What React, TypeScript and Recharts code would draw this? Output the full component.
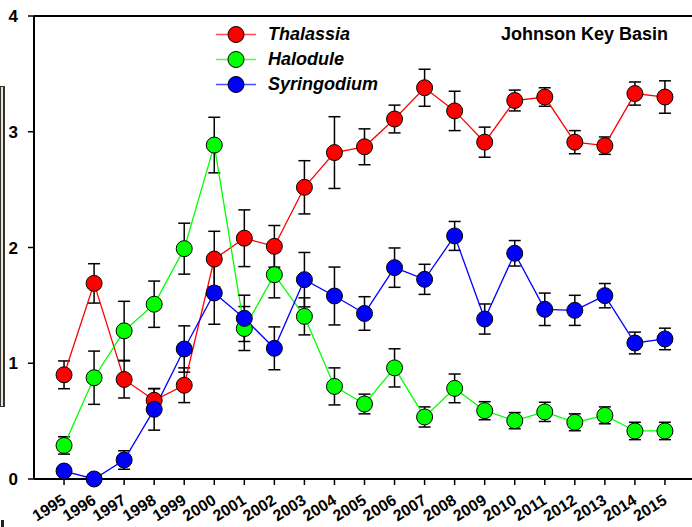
import { LineChart, Line, XAxis, YAxis, ErrorBar, ReferenceLine } from 'recharts';

const years = [
  1995, 1996, 1997, 1998, 1999, 2000, 2001, 2002, 2003, 2004, 2005,
  2006, 2007, 2008, 2009, 2010, 2011, 2012, 2013, 2014, 2015,
];

const thalassia = [
  0.9, 1.69, 0.86, 0.68, 0.81, 1.9, 2.08, 2.01, 2.52, 2.82, 2.87,
  3.11, 3.38, 3.18, 2.91, 3.27, 3.3, 2.91, 2.88, 3.33, 3.3,
];
const thalassiaErr = [
  0.12, 0.17, 0.16, 0.1, 0.15, 0.24, 0.245, 0.18, 0.23, 0.31, 0.155,
  0.12, 0.16, 0.17, 0.13, 0.09, 0.08, 0.1, 0.075, 0.1, 0.14,
];

const halodule = [
  0.29, 0.875, 1.28, 1.51, 1.99, 2.885, 1.3, 1.765, 1.405, 0.8, 0.648,
  0.96, 0.536, 0.783, 0.59, 0.504, 0.58, 0.49, 0.55, 0.415, 0.415,
];
const haloduleErr = [
  0.075, 0.23, 0.255, 0.2, 0.22, 0.24, 0.19, 0.2, 0.16, 0.16, 0.085,
  0.165, 0.087, 0.124, 0.078, 0.07, 0.083, 0.073, 0.073, 0.075, 0.075,
];

const syringodium = [
  0.069, 0.0, 0.164, 0.602, 1.123, 1.607, 1.388, 1.129, 1.722, 1.581, 1.43,
  1.826, 1.725, 2.1, 1.382, 1.95, 1.466, 1.457, 1.584, 1.175, 1.21,
];
const syringodiumErr = [
  0.03, 0, 0.08, 0.18, 0.2, 0.27, 0.2, 0.185, 0.235, 0.25, 0.145,
  0.17, 0.13, 0.125, 0.13, 0.11, 0.14, 0.13, 0.105, 0.094, 0.093,
];

const yTicks = [0, 1, 2, 3, 4];

const series = [
  { key: 'thalassia', err: 'thalassiaErr', name: 'Thalassia', color: '#ff0000' },
  { key: 'halodule', err: 'haloduleErr', name: 'Halodule', color: '#00ff00' },
  { key: 'syringodium', err: 'syringodiumErr', name: 'Syringodium', color: '#0000ff' },
];

const data = years.map((year, i) => ({
  year,
  thalassia: thalassia[i],
  thalassiaErr: thalassiaErr[i],
  halodule: halodule[i],
  haloduleErr: haloduleErr[i],
  syringodium: syringodium[i],
  syringodiumErr: syringodiumErr[i],
}));

const FONT = '"Liberation Sans", Arial, sans-serif';

function XTick({ x, y, payload }: any) {
  const ax = x + 3;
  const ay = y + 16;
  return (
    <text
      x={ax}
      y={ay}
      textAnchor="end"
      transform={`rotate(-32, ${ax}, ${ay})`}
      fontSize={16}
      fontWeight="bold"
      fontFamily={FONT}
      fill="#000"
    >
      {payload.value}
    </text>
  );
}

// legend drawn by hand so it does not eat into the plot area
function SeriesLegend() {
  return (
    <div style={{ position: 'absolute', left: 214, top: 22 }}>
      {series.map((s) => (
        <div key={s.key} style={{ display: 'flex', alignItems: 'center', height: 25.2 }}>
          <svg width={44} height={25} style={{ display: 'block' }}>
            <line x1={2} y1={12.5} x2={42} y2={12.5} stroke={s.color} strokeOpacity={0.7} strokeWidth={1.5} />
            <circle cx={22} cy={12.5} r={8} fill={s.color} stroke="#000" strokeWidth={1} />
          </svg>
          <span
            style={{
              marginLeft: 10,
              fontSize: 18,
              fontWeight: 'bold',
              fontStyle: 'italic',
              fontFamily: FONT,
              lineHeight: '25px',
              color: '#000',
            }}
          >
            {s.name}
          </span>
        </div>
      ))}
    </div>
  );
}

export default function App() {
  return (
    <div
      style={{
        position: 'absolute',
        left: 0,
        top: 0,
        width: 692,
        height: 527,
        overflow: 'hidden',
        background: '#fff',
        fontFamily: FONT,
      }}
    >
      <div
        style={{
          position: 'absolute',
          left: 0,
          top: 86,
          width: 2,
          height: 319,
          background: '#ece6cc',
          border: '1px solid #333',
          borderRightWidth: 2,
        }}
      />
      <div style={{ position: 'absolute', left: 1, top: 520, width: 3, height: 7, background: '#222' }} />
      <LineChart
        width={695}
        height={527}
        data={data}
        margin={{ top: 16, right: 0, bottom: 8, left: 0 }}
      >
        <XAxis
          dataKey="year"
          type="number"
          domain={[1994, 2016]}
          ticks={years}
          interval={0}
          height={40}
          axisLine={{ stroke: '#000', strokeWidth: 2 }}
          tickLine={{ stroke: '#000', strokeWidth: 1.5 }}
          tickSize={6}
          tick={<XTick />}
        />
        <YAxis
          type="number"
          domain={[0, 4]}
          ticks={yTicks}
          width={34}
          axisLine={{ stroke: '#000', strokeWidth: 2 }}
          tickLine={{ stroke: '#000', strokeWidth: 1.5 }}
          tickSize={6}
          tickMargin={10}
          tick={{ fontSize: 17, fontWeight: 'bold', fill: '#000', fontFamily: FONT }}
        />
        <ReferenceLine y={4} stroke="#000" strokeWidth={2} />
        {series.map((s) => (
          <Line
            key={s.key}
            type="linear"
            dataKey={s.key}
            name={s.name}
            stroke={s.color}
            strokeWidth={1.3}
            dot={{ r: 8, fill: s.color, stroke: '#000', strokeWidth: 1 }}
            activeDot={false}
            isAnimationActive={false}
          >
            <ErrorBar dataKey={s.err} direction="y" width={6} stroke="#000" strokeWidth={1.5} />
          </Line>
        ))}
      </LineChart>
      <SeriesLegend />
      <div
        style={{
          position: 'absolute',
          left: 501,
          top: 25,
          fontSize: 18,
          lineHeight: '18px',
          fontWeight: 'bold',
          fontFamily: FONT,
          color: '#000',
          whiteSpace: 'nowrap',
        }}
      >
        Johnson Key Basin
      </div>
    </div>
  );
}
